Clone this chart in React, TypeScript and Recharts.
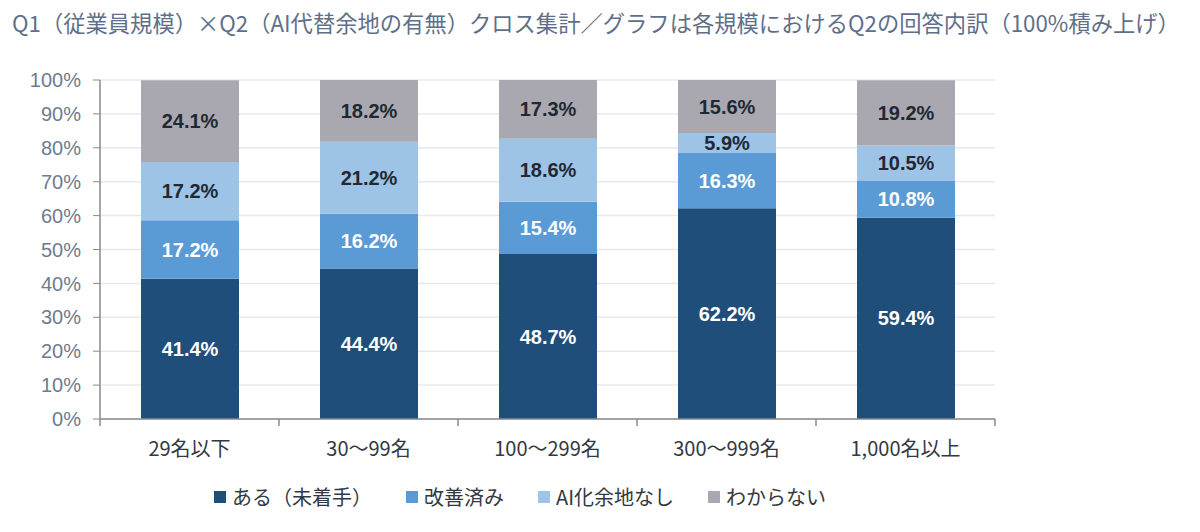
import React from "react";
import {
    BarChart,
    Bar,
    XAxis,
    YAxis,
    CartesianGrid,
    Legend,
    LabelList,
} from "recharts";

const categories = ["29名以下", "30〜99名", "100〜299名", "300〜999名", "1,000名以上"];
const notStarted = [41.4, 44.4, 48.7, 62.2, 59.4];
const improved = [17.2, 16.2, 15.4, 16.3, 10.8];
const noRoom = [17.2, 21.2, 18.6, 5.9, 10.5];
const unknown = [24.1, 18.2, 17.3, 15.6, 19.2];
const yTicks = [0, 10, 20, 30, 40, 50, 60, 70, 80, 90, 100];

const series = [
    { key: "notStarted", name: "ある（未着手）", color: "#1f4e7a", label: "#ffffff" },
    { key: "improved", name: "改善済み", color: "#5b9bd5", label: "#ffffff" },
    { key: "noRoom", name: "AI化余地なし", color: "#9dc3e6", label: "#222833" },
    { key: "unknown", name: "わからない", color: "#a9a8b1", label: "#222833" },
];

const data = categories.map((name, i) => ({
    name,
    notStarted: notStarted[i],
    improved: improved[i],
    noRoom: noRoom[i],
    unknown: unknown[i],
}));

const WIDTH = 1200;
const HEIGHT = 532;
const LEFT = 100;
const RIGHT = 995;
const BAND = (RIGHT - LEFT) / categories.length;

const CJK = "'Noto Sans CJK JP', 'Noto Sans', sans-serif";
const ARIAL = "'Liberation Sans', Arial, sans-serif";

function CategoryTick({ x, y, payload, index }: any) {
    const isLast = index === categories.length - 1;
    return (
        <g>
            <line x1={x - BAND / 2} y1={y - 8} x2={x - BAND / 2} y2={y - 1} stroke="#8a8a8a" strokeWidth={1.5} />
            {isLast && (
                <line x1={x + BAND / 2} y1={y - 8} x2={x + BAND / 2} y2={y - 1} stroke="#8a8a8a" strokeWidth={1.5} />
            )}
            <text x={x} y={y + 29} textAnchor="middle" fill="#333842" fontSize={20} fontFamily={CJK}>
                {payload.value}
            </text>
        </g>
    );
}

function LegendContent() {
    return (
        <div style={{ display: "flex", paddingLeft: 214, fontFamily: CJK, fontSize: 20, color: "#333842" }}>
            {series.map((s) => (
                <div key={s.key} style={{ display: "flex", alignItems: "center", marginRight: 34 }}>
                    <span style={{ width: 12, height: 12, background: s.color, display: "inline-block", marginRight: 6 }} />
                    <span>{s.name}</span>
                </div>
            ))}
        </div>
    );
}

export default function App() {
    return (
        <div style={{ position: "absolute", left: 0, top: 0, width: WIDTH, height: HEIGHT, background: "#fff" }}>
            <div
                style={{
                    position: "absolute",
                    left: 12,
                    top: 6,
                    fontFamily: CJK,
                    fontSize: 22.3,
                    color: "#5f6f8a",
                    whiteSpace: "nowrap",
                }}
            >
                Q1（従業員規模）×Q2（AI代替余地の有無）クロス集計／グラフは各規模におけるQ2の回答内訳（100%積み上げ）
            </div>
            <BarChart
                width={WIDTH}
                height={HEIGHT}
                data={data}
                margin={{ top: 80, right: WIDTH - RIGHT, bottom: 8, left: 0 }}
            >
                <CartesianGrid vertical={false} stroke="#e8e8f0" strokeWidth={1.5} />
                <XAxis
                    dataKey="name"
                    height={63}
                    tickLine={false}
                    axisLine={{ stroke: "#8a8a8a", strokeWidth: 1.5 }}
                    tick={<CategoryTick />}
                    interval={0}
                />
                <YAxis
                    width={LEFT}
                    domain={[0, 100]}
                    ticks={yTicks}
                    allowDataOverflow
                    tickFormatter={(v: number) => `${v}%`}
                    tickSize={7}
                    tickMargin={12}
                    tickLine={{ stroke: "#8a8a8a" }}
                    axisLine={{ stroke: "#8a8a8a", strokeWidth: 1.5 }}
                    tick={{ fill: "#6d7b91", fontSize: 20, fontFamily: ARIAL }}
                />
                <Legend verticalAlign="bottom" height={42} content={<LegendContent />} />
                {series.map((s) => (
                    <Bar
                        key={s.key}
                        dataKey={s.key}
                        name={s.name}
                        stackId="a"
                        fill={s.color}
                        barSize={98}
                        isAnimationActive={false}
                    >
                        <LabelList
                            dataKey={s.key}
                            position="center"
                            formatter={(v: any) => `${v}%`}
                            fill={s.label}
                            fontSize={20}
                            fontWeight="bold"
                            fontFamily={ARIAL}
                        />
                    </Bar>
                ))}
            </BarChart>
        </div>
    );
}
